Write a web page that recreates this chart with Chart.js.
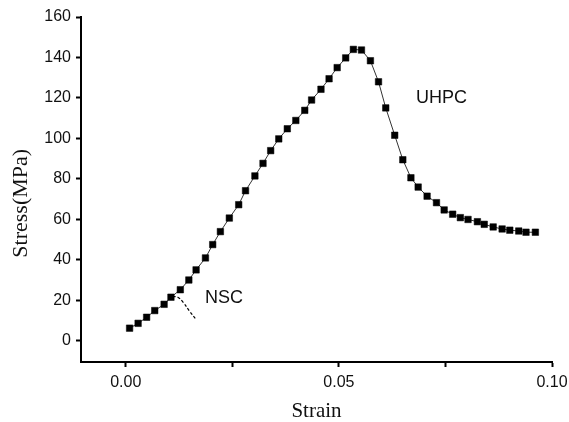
<!DOCTYPE html>
<html>
<head>
<meta charset="utf-8">
<script src="https://cdn.jsdelivr.net/npm/chart.js@4/dist/chart.umd.min.js"></script>
<style>
  html, body { margin: 0; padding: 0; background: #fff; }
  #wrap { width: 569px; height: 422px; position: relative; }
</style>
</head>
<body>
<div id="wrap"><canvas id="stress"></canvas></div>
<script>
// UHPC test points (strain, stress in MPa)
const uhpcStrain = [
  0.0009, 0.0029, 0.0049, 0.0068, 0.0090, 0.0106, 0.0128, 0.0148, 0.0165, 0.0187,
  0.0204, 0.0222, 0.0243, 0.0265, 0.0281, 0.0303, 0.0322, 0.0340, 0.0359, 0.0379,
  0.0399, 0.0420, 0.0436, 0.0458, 0.0477, 0.0496, 0.0516, 0.0534, 0.0553, 0.0574,
  0.0593, 0.0610, 0.0631, 0.0650, 0.0669, 0.0686, 0.0707, 0.0729, 0.0747, 0.0767,
  0.0785, 0.0803, 0.0825, 0.0841, 0.0862, 0.0883, 0.0901, 0.0922, 0.0939, 0.0961
];
const uhpcStress = [
  6.3, 8.7, 11.7, 15.0, 18.1, 21.6, 25.3, 30.1, 35.1, 41.0,
  47.6, 54.0, 60.7, 67.3, 74.2, 81.5, 87.7, 94.0, 99.8, 104.8,
  108.9, 113.9, 119.0, 124.3, 129.5, 135.0, 139.8, 144.0, 143.7, 138.4,
  128.0, 115.1, 101.6, 89.5, 80.6, 76.0, 71.5, 68.3, 64.7, 62.6,
  60.9, 60.0, 58.9, 57.6, 56.3, 55.3, 54.7, 54.3, 53.7, 53.7
];
// NSC curve (dashed, no markers)
const nscStrain = [0.0110, 0.0122, 0.0135, 0.0150, 0.0165];
const nscStress = [22.0, 21.6, 19.0, 14.6, 10.6];

const yTicks = [0, 10, 20, 30, 40, 50, 60, 70, 80, 90, 100, 110, 120, 130, 140, 150, 160];
const xTicks = [0, 0.025, 0.05, 0.075, 0.10];
const xLabels = { 0: '0.00', 0.05: '0.05', 0.1: '0.10' };

const notes = [
  { text: 'UHPC', x: 0.0681, y: 120 },
  { text: 'NSC', x: 0.0186, y: 21.2 }
];

const notePlugin = {
  id: 'notes',
  afterDatasetsDraw(chart) {
    const { ctx, scales } = chart;
    ctx.save();
    ctx.font = '18px "Liberation Sans", Arial, sans-serif';
    ctx.fillStyle = '#111';
    ctx.textAlign = 'left';
    ctx.textBaseline = 'middle';
    notes.forEach(n => {
      ctx.fillText(n.text, scales.x.getPixelForValue(n.x), scales.y.getPixelForValue(n.y));
    });
    ctx.restore();
  }
};

new Chart(document.getElementById('stress'), {
  type: 'scatter',
  data: {
    datasets: [
      {
        label: 'UHPC',
        data: uhpcStrain.map((s, i) => ({ x: s, y: uhpcStress[i] })),
        showLine: true,
        borderColor: '#333',
        borderWidth: 1,
        pointStyle: 'rect',
        pointRadius: 4.6,
        pointBorderWidth: 0.5,
        pointBackgroundColor: '#000',
        pointBorderColor: '#000',
        tension: 0
      },
      {
        label: 'NSC',
        data: nscStrain.map((s, i) => ({ x: s, y: nscStress[i] })),
        showLine: true,
        borderColor: '#000',
        borderWidth: 1.2,
        borderDash: [3, 2],
        pointRadius: 0,
        tension: 0.4
      }
    ]
  },
  options: {
    responsive: true,
    maintainAspectRatio: false,
    animation: false,
    layout: { padding: { top: 17, right: 17, bottom: 0, left: 0 } },
    plugins: {
      legend: { display: false },
      tooltip: { enabled: false }
    },
    scales: {
      x: {
        type: 'linear',
        min: -0.0105,
        max: 0.10,
        afterBuildTicks: s => { s.ticks = xTicks.map(v => ({ value: v })); },
        afterFit: s => { s.height = 60; s.paddingLeft = 0; s.paddingRight = 0; },
        border: { color: '#000', width: 2 },
        grid: { drawOnChartArea: false, drawTicks: true, tickLength: 5, tickColor: '#000', tickWidth: 2 },
        ticks: {
          color: '#111',
          padding: 6,
          maxRotation: 0,
          font: { family: '"Liberation Sans", Arial, sans-serif', size: 16 },
          callback: v => xLabels[Math.round(v * 1000) / 1000] || ''
        },
        title: {
          display: true,
          text: 'Strain',
          color: '#111',
          padding: { top: 0, bottom: 0 },
          font: { family: '"Liberation Serif", "Times New Roman", serif', size: 21, lineHeight: 1 }
        }
      },
      y: {
        min: -10.4,
        max: 160,
        afterBuildTicks: s => { s.ticks = yTicks.map(v => ({ value: v })); },
        afterFit: s => { s.width = 81; s.paddingTop = 0; s.paddingBottom = 0; },
        border: { color: '#000', width: 2 },
        grid: { drawOnChartArea: false, drawTicks: true, tickLength: 5, tickColor: '#000', tickWidth: 2 },
        ticks: {
          color: '#111',
          padding: 5,
          font: { family: '"Liberation Sans", Arial, sans-serif', size: 16 },
          callback: v => (v % 20 === 0 ? String(v) : '')
        },
        title: {
          display: true,
          text: 'Stress(MPa)     ',
          color: '#111',
          padding: { top: 8, bottom: 0 },
          font: { family: '"Liberation Serif", "Times New Roman", serif', size: 22 }
        }
      }
    }
  },
  plugins: [notePlugin]
});
</script>
</body>
</html>
